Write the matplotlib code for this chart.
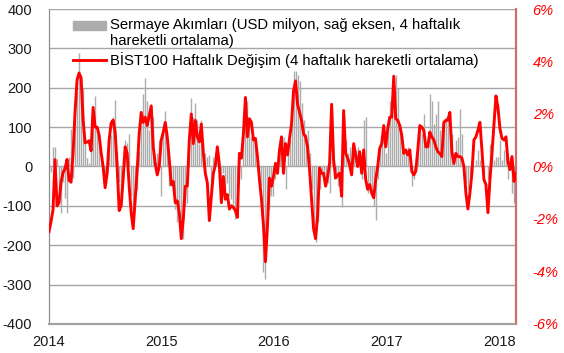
import matplotlib
matplotlib.use("Agg")
import matplotlib.pyplot as plt
from matplotlib.patches import Rectangle, Patch
from matplotlib.legend_handler import HandlerPatch
import pandas as pd

# weekly capital flows (USD mn, 4w moving avg)
flows = [-10, -15, 50, 50, 20, -60, -117, -40, -80, -117, 25, 96, -30, 117, 190, 287, 225, 200, 65, 21,
         10, 40, 117, 179, 100, 70, 10, -20, -30, -15, 75, 80, 125, 170, 40, -40, -100, 20, 67,
         60, 83, -75, -150, -100, -60, 40, 120, 183, 225, 167, 92, 150, 125, -8, 33, 67, -75, 92, 140,
         75, -50, -50, -50, -108, -142, -100, -175, -183, -100, -92, 25, 175, 125, 160, 117, 58,
         117, 60, 33, 25, 29, -67, 25, 17, 42, -33, -75, -17, -58, -42, -75, -83, -108, -133, -50, 33,
         -33, 67, 175, 167, 108, 75, 67, 58, 25, -42, -50, -267, -285, -150, -108, -75, -75, -33, -17, 58, 75,
         75, -58, 50, 67, 125, 242, 242, 233, 217, 162, 117, 83, 92, 33, -58, -150, -192, -142, -58, -25,
         -17, -50, -42, -67, 142, -33, -17, -50, -42, -104, 125, 67, 33, 50, 17, 58, 42, 50,
         25, -33, 117, 125, -67, -50, -75, -100, -137, -33, 50, 75, 67, 33, 108, 167, 150, 225, 233, 200,
         108, 67, 42, 33, 50, 33, -50, -33, 25, 67, 100, 83, 133, 58, 67, 183, 167, 108, 133,
         167, 92, 42, 117, 125, 125, 108, 83, 17, 67, 75, 146, 83, 0, -42, -58, -25, -17, 0, 17,
         42, 17, 0, -17, 0, -33, 58, 42, 17, 25, 25, 67, 17, 42, 33, -33, 25, -67, -92, -95]

# BIST100 weekly change (%, 4w moving avg)
bist = [-2.48, -2.10, -1.65, 0.26, -1.50, -1.38, -0.60, -0.23, -0.08, 0.27, -0.53, -0.60, 0.50, 2.10, 3.30,
        3.56, 3.38, 1.80, 0.90, 0.93, 0.98, 0.60, 2.25, 1.50, 1.50, 1.20, 0.53, 0.00, -0.81, -0.26, 1.01,
        1.65, 1.77, 1.31, 0.00, -1.68, -1.50, -0.45, 0.75,
        0.50, -0.75, -1.76, -2.37, -1.25, -0.12, 1.25, 2.06, 1.68, 1.88, 1.56, 1.94, 2.31, 0.75, 0.12,
        -0.32, 0.00, 1.01, 1.31, 1.68, 1.13, 0.26, -0.69, -0.57, -1.38, -1.31, -1.76, -2.75, -2.00, -0.75,
        -0.75, 1.01, 2.00, 0.87, 1.76, 1.13, 0.93,
        1.62, 0.50, -0.26, -0.63, -2.06, -1.13, -0.26, 0.06, 0.75, 0.06, -1.38, -0.38, -1.25, -1.07, -1.62,
        -1.50, -1.56, -1.68, -1.94, 0.50, 0.32, 1.25, 2.63, 1.13, 1.82, 1.68, 1.01, 1.07, 0.38, -0.50,
        -1.25, -2.25, -3.63, -2.25, -0.44, -0.75, -0.38, 0.12, -0.26, 0.63, 1.13,
        -0.26, 0.87, 0.44, 1.07, 1.62, 2.88, 3.26, 2.37, 2.06, 1.76, 1.25, 1.13, 0.75, -0.12, -1.25,
        -2.37, -2.75, -1.88, -0.06, -0.26, -0.26, -0.75, -0.38, 0.12, 2.37, 0.26, -0.44, -0.32, -0.26,
        -1.13, 2.13, 0.50, 0.32, 0.06, -0.32, 0.87, 0.44, 0.00,
        0.56, -0.26, 0.63, -0.50, -0.87, -0.69, -1.01, -1.19, -0.50, 0.00, 0.69, 0.87, 1.56, 0.75, 1.44,
        1.88, 1.88, 3.44, 1.82, 1.76, 1.56, 1.19, 0.50, 0.63, 0.44, 0.63, -0.18, -0.32, -0.18, 0.63,
        1.56, 1.50, 1.38, 0.75, 0.75, 1.31, 1.13, 1.01, 0.75,
        0.56, 0.50, 0.38, 1.68, 1.76, 1.76, 2.06, 0.56, 0.12, 0.50, 0.38, 0.38, 0.32, 0.00, -1.01,
        -1.62, -1.01, -0.26, 1.01, 1.13, 1.38, 1.68, 0.63, -0.50, -0.69, -1.76, -0.50, 0.50, 1.62,
        2.69, 2.25, 1.44, 1.07, 1.01, 1.13, 0.18, -0.12, 0.38, -0.57, -0.26]

dates = pd.date_range("2014-01-01", "2018-02-24", periods=len(bist))
years = ["2014", "2015", "2016", "2017", "2018"]

label_flows = "Sermaye Akımları (USD milyon, sağ eksen, 4 haftalık\nhareketli ortalama)"
label_bist = "BİST100 Haftalık Değişim (4 haftalık hareketli ortalama)"

bar_color = "#adadad"

plt.rcParams["font.family"] = ["Liberation Sans", "DejaVu Sans"]
plt.rcParams["axes.unicode_minus"] = False

fig = plt.figure(figsize=(5.64, 3.53), dpi=100)
ax = fig.add_axes([0.0869, 0.0822, 0.828, 0.8923])
ax2 = ax.twinx()

# thin weekly bars
ax.vlines(dates, 0, flows, color=bar_color, lw=1.0, zorder=2)
line, = ax2.plot(dates, bist, color="#ff0000", lw=2.1, zorder=3)

# left axis
ax.set_ylim(-400, 400)
ax.set_yticks(range(-400, 401, 100))
ax.grid(axis="y", color="#a6a6a6", lw=1.0, zorder=0)
ax.set_axisbelow(True)
ax.tick_params(axis="y", length=0, pad=12, labelsize=10.5, labelcolor="#1a1a1a")
ax.set_xlim(dates[0], dates[-1])
ax.set_xticks(pd.to_datetime([y + "-01-01" for y in years]))
ax.set_xticklabels(years)
ax.tick_params(axis="x", length=0, pad=8, labelsize=10.5, labelcolor="#1a1a1a")

# right axis
ax2.set_ylim(-6, 6)
ax2.set_yticks(range(-6, 7, 2))
ax2.set_yticklabels(["%d%%" % v for v in range(-6, 7, 2)], color="#ff0000", fontstyle="italic")
ax2.tick_params(axis="y", length=0, pad=12, labelsize=10.5)

for a in (ax, ax2):
    a.spines["top"].set_visible(False)
    a.spines["left"].set_color("#8c8c8c")
    a.spines["bottom"].set_color("#a0a0a0")
    a.spines["bottom"].set_linewidth(1.5)
    a.spines["right"].set_color("#d46a6a")
    a.spines["right"].set_linewidth(1.5)


# grey box should sit on the first line of the two-line label
def top_line_box(legend, orig_handle, xdescent, ydescent, width, height, fontsize):
    return Rectangle((-xdescent, -ydescent + 6.3), width, height * 0.85)


proxy = Patch(color=bar_color)
ax2.legend([proxy, line], [label_flows, label_bist], loc="upper left",
           bbox_to_anchor=(0.052, 0.972), frameon=False, fontsize=10.7,
           handlelength=2.2, handletextpad=0.3, labelspacing=0.3,
           borderaxespad=0, borderpad=0,
           handler_map={Patch: HandlerPatch(patch_func=top_line_box)})

fig.savefig("out.png", dpi=100)
